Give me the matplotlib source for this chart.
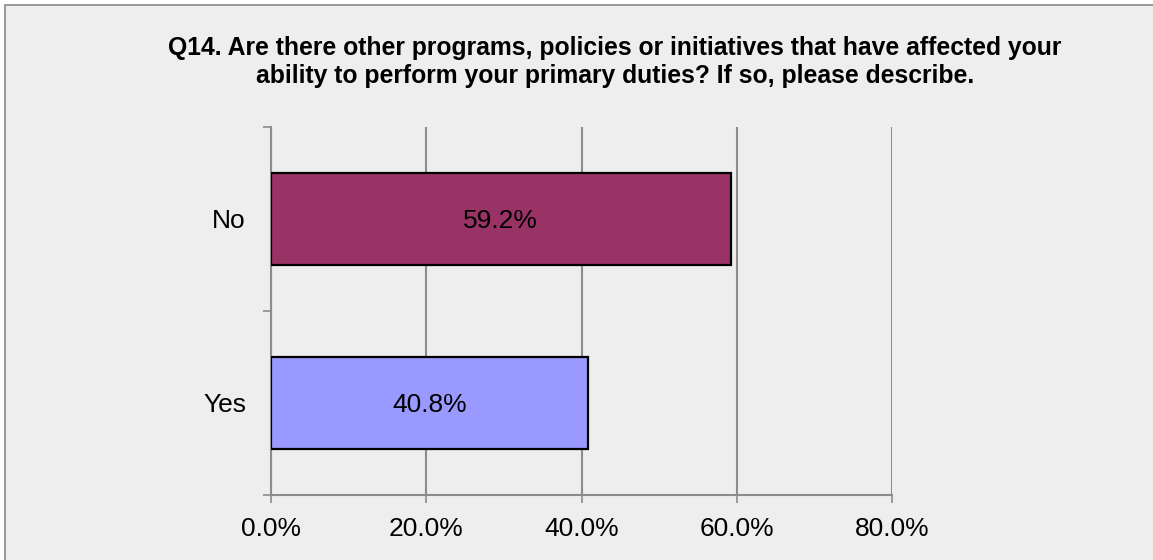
import matplotlib
matplotlib.use("Agg")
import matplotlib.pyplot as plt
from matplotlib.patches import Rectangle
from matplotlib.ticker import FixedLocator, PercentFormatter

categories = ["Yes", "No"]
values = [40.8, 59.2]
colors = ["#9999FF", "#993366"]
x_ticks = [0, 20, 40, 60, 80]
title = ("Q14. Are there other programs, policies or initiatives that have affected your\n"
         "ability to perform your primary duties? If so, please describe.")

title_font = ["Liberation Sans Narrow", "Liberation Sans", "DejaVu Sans"]
plt.rcParams['font.family'] = ["Liberation Sans", "DejaVu Sans"]

W, H = 1153, 560
fig = plt.figure(figsize=(W / 100, H / 100), dpi=100, facecolor="white")
bg = Rectangle((5 / W, -0.1), 1.2, (H - 5) / H + 0.1, transform=fig.transFigure,
               facecolor="#EEEEEE", edgecolor="#888888", linewidth=1.2, zorder=-10)
fig.patches.append(bg)

ax = fig.add_axes([271 / W, 1 - 495 / H, (892 - 271) / W, (495 - 127) / H])
ax.set_zorder(5)
ax.set_facecolor("none")
ypos = list(range(len(categories)))
ax.barh(ypos, values, height=0.505, color=colors, edgecolor="black", linewidth=1.6, zorder=3)
for y, v in zip(ypos, values):
    ax.text(v / 2, y, f"{v:.1f}%", ha="center", va="center_baseline", fontsize=19,
            color="black", zorder=4)

ax.set_xlim(0, 80)
ax.set_ylim(-0.5, 1.5)
ax.xaxis.set_major_locator(FixedLocator(x_ticks))
ax.xaxis.set_major_formatter(PercentFormatter(decimals=1))
ax.grid(axis="x", color="#8C8C8C", linewidth=1.5, zorder=1)
ax.set_axisbelow(True)

ax.set_yticks(ypos)
ax.set_yticklabels(categories)
ax.yaxis.set_minor_locator(FixedLocator([-0.5, 0.5, 1.5]))
ax.tick_params(axis="y", which="major", length=0, pad=18, labelsize=19)
ax.tick_params(axis="y", which="minor", length=6, width=1.2, color="#8C8C8C", direction="out")
ax.tick_params(axis="x", which="major", length=6, width=1.2, color="#8C8C8C", direction="out",
               pad=9.5, labelsize=19)

for s in ["top", "right"]:
    ax.spines[s].set_visible(False)
for s in ["left", "bottom"]:
    ax.spines[s].set_color("#8C8C8C")
    ax.spines[s].set_linewidth(1.5)

fig.text(615 / W, 1 - 62 / H, title, ha="center", va="center", fontsize=17.8, fontweight="bold",
         family=title_font, linespacing=1.2)

fig.savefig("out.png", dpi=100, facecolor=fig.get_facecolor())
